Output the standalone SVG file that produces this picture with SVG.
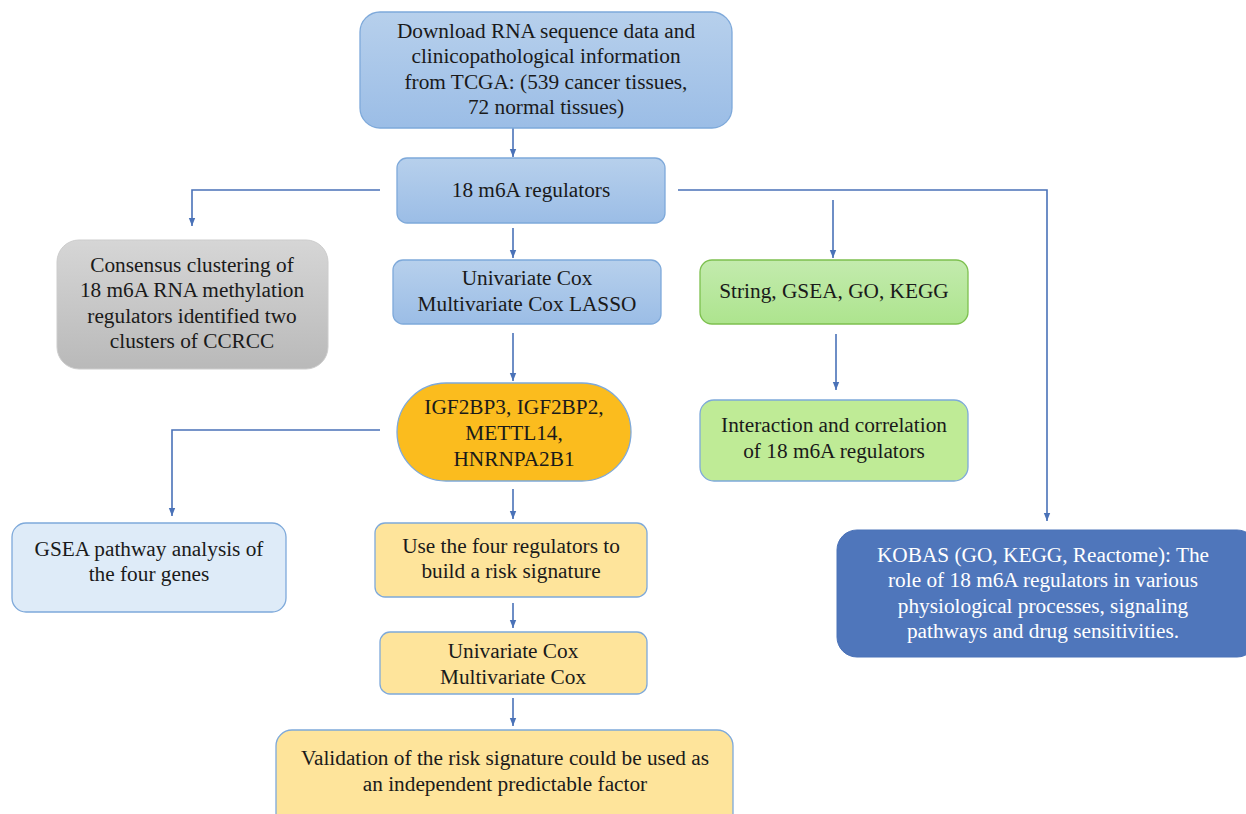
<svg xmlns="http://www.w3.org/2000/svg" width="1246" height="814" viewBox="0 0 1246 814">
<defs>
<linearGradient id="gBlue" x1="0" y1="0" x2="0" y2="1"><stop offset="0" stop-color="#b7d0ec"/><stop offset="1" stop-color="#9bbde6"/></linearGradient>
<linearGradient id="gGray" x1="0" y1="0" x2="0" y2="1"><stop offset="0" stop-color="#d6d6d6"/><stop offset="1" stop-color="#b9b9b9"/></linearGradient>
<linearGradient id="gGreen" x1="0" y1="0" x2="0" y2="1"><stop offset="0" stop-color="#c3ebae"/><stop offset="1" stop-color="#ade48e"/></linearGradient>
<marker id="arr" viewBox="0 0 10 10" refX="10" refY="5" markerWidth="8" markerHeight="8" orient="auto" markerUnits="userSpaceOnUse"><path d="M0,1 L10,5 L0,9 Z" fill="#4a72b8"/></marker>
<style>
.t{font-family:"Liberation Serif","Times New Roman",serif;font-size:21.3px;fill:#1a1a1a;text-anchor:middle}
.w{fill:#ffffff}
.c{fill:none;stroke:#4a72b8;stroke-width:1.6}
.sb{stroke:#7ea9da;stroke-width:1.3}
</style>
</defs>
<rect width="1246" height="814" fill="#ffffff"/>
<g id="connectors">
<path class="c" d="M513,128 V157" marker-end="url(#arr)"/>
<path class="c" d="M380,190 H192 V226" marker-end="url(#arr)"/>
<path class="c" d="M678,190 H1047 V521" marker-end="url(#arr)"/>
<path class="c" d="M513,228 V258" marker-end="url(#arr)"/>
<path class="c" d="M833,200 V258" marker-end="url(#arr)"/>
<path class="c" d="M836,334 V390" marker-end="url(#arr)"/>
<path class="c" d="M513,333 V381" marker-end="url(#arr)"/>
<path class="c" d="M380,430 H172 V516" marker-end="url(#arr)"/>
<path class="c" d="M513,489 V519" marker-end="url(#arr)"/>
<path class="c" d="M513,603 V628" marker-end="url(#arr)"/>
<path class="c" d="M513,698 V726" marker-end="url(#arr)"/>
</g>
<g id="n-download">
<rect x="360" y="12" width="372" height="116" rx="20" fill="url(#gBlue)" class="sb"/>
<text class="t" x="546" y="38">Download RNA sequence data and</text>
<text class="t" x="546" y="63">clinicopathological information</text>
<text class="t" x="546" y="89">from TCGA: (539 cancer tissues,</text>
<text class="t" x="546" y="114">72 normal tissues)</text>
</g>
<g id="n-regulators">
<rect x="397" y="158" width="268" height="65" rx="10" fill="url(#gBlue)" class="sb"/>
<text class="t" x="531" y="197">18 m6A regulators</text>
</g>
<g id="n-consensus">
<rect x="57" y="240" width="271" height="129" rx="22" fill="url(#gGray)" stroke="#cccccc" stroke-width="1"/>
<text class="t" x="192" y="272">Consensus clustering of</text>
<text class="t" x="192" y="297">18 m6A RNA methylation</text>
<text class="t" x="192" y="323">regulators identified two</text>
<text class="t" x="192" y="348">clusters of CCRCC</text>
</g>
<g id="n-cox-lasso">
<rect x="393" y="260" width="268" height="64" rx="10" fill="url(#gBlue)" class="sb"/>
<text class="t" x="527" y="285">Univariate Cox</text>
<text class="t" x="527" y="311">Multivariate Cox LASSO</text>
</g>
<g id="n-string">
<rect x="700" y="260" width="268" height="64" rx="12" fill="url(#gGreen)" stroke="#7dc04f" stroke-width="1.3"/>
<text class="t" x="834" y="298">String, GSEA, GO, KEGG</text>
</g>
<g id="n-interaction">
<rect x="700" y="400" width="268" height="81" rx="14" fill="#bfeb96" class="sb"/>
<text class="t" x="834" y="432">Interaction and correlation</text>
<text class="t" x="834" y="458">of 18 m6A regulators</text>
</g>
<g id="n-genes">
<rect x="397" y="383" width="234" height="98" rx="49" fill="#fbbc1e" class="sb"/>
<text class="t" x="514" y="414">IGF2BP3, IGF2BP2,</text>
<text class="t" x="514" y="440">METTL14,</text>
<text class="t" x="514" y="466">HNRNPA2B1</text>
</g>
<g id="n-gsea">
<rect x="12" y="523" width="274" height="89" rx="14" fill="#deebf8" class="sb"/>
<text class="t" x="149" y="556">GSEA pathway analysis of</text>
<text class="t" x="149" y="581">the four genes</text>
</g>
<g id="n-kobas">
<rect x="837" y="530" width="420" height="127" rx="20" fill="#4f76bb" stroke="#4a72b8" stroke-width="1"/>
<text class="t w" x="1043" y="562">KOBAS (GO, KEGG, Reactome): The</text>
<text class="t w" x="1043" y="587">role of 18 m6A regulators in various</text>
<text class="t w" x="1043" y="613">physiological processes, signaling</text>
<text class="t w" x="1043" y="638">pathways and drug sensitivities.</text>
</g>
<g id="n-use">
<rect x="375" y="523" width="272" height="74" rx="10" fill="#fee49b" class="sb"/>
<text class="t" x="511" y="553">Use the four regulators to</text>
<text class="t" x="511" y="578">build a risk signature</text>
</g>
<g id="n-cox">
<rect x="380" y="632" width="267" height="62" rx="10" fill="#fee49b" class="sb"/>
<text class="t" x="513" y="658">Univariate Cox</text>
<text class="t" x="513" y="684">Multivariate Cox</text>
</g>
<g id="n-validation">
<rect x="276" y="730" width="457" height="100" rx="16" fill="#fee49b" class="sb"/>
<text class="t" x="505" y="765">Validation of the risk signature could be used as</text>
<text class="t" x="505" y="791">an independent predictable factor</text>
</g>
</svg>
